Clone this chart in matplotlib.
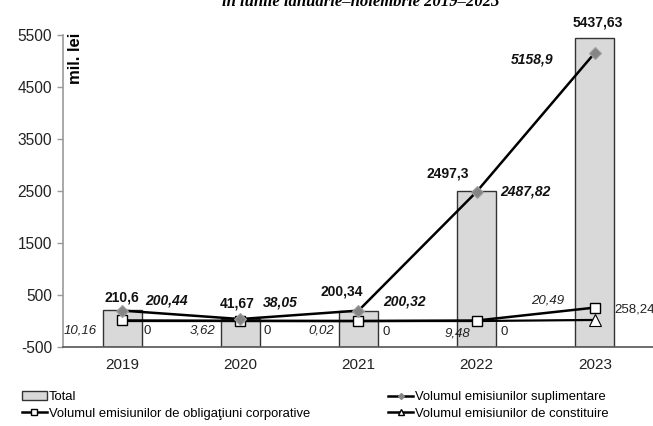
import numpy as np
import matplotlib
matplotlib.use('Agg')
import matplotlib.pyplot as plt
from matplotlib.lines import Line2D
from matplotlib.patches import Patch

# values (mil. lei)
years = ['2019', '2020', '2021', '2022', '2023']
total = [210.6, 41.67, 200.34, 2497.3, 5437.63]
suplimentare = [200.44, 38.05, 200.32, 2487.82, 5158.9]
obligatiuni = [10.16, 3.62, 0.02, 9.48, 258.24]
constituire = [0, 0, 0, 0, 20.49]
yticks = [-500, 500, 1500, 2500, 3500, 4500, 5500]

lbl_total = 'Total'
lbl_sup = 'Volumul emisiunilor suplimentare'
lbl_obl = 'Volumul emisiunilor de obligaţiuni corporative'
lbl_con = 'Volumul emisiunilor de constituire'

def fmt(v):
    return ('%g' % v).replace('.', ',')

plt.rcParams['font.family'] = ['Liberation Sans', 'DejaVu Sans']
plt.rcParams['axes.unicode_minus'] = False

fig = plt.figure(figsize=(6.53, 4.26), dpi=100)
ax = fig.add_axes([0.0965, 0.1854, 0.905, 0.7324])

x = np.arange(len(years))
ymin = yticks[0]

# bars start at the bottom of the axis
ax.bar(x, np.array(total) - ymin, bottom=ymin, width=0.33,
       color='#d9d9d9', edgecolor='#333333', linewidth=1.0, zorder=1)

ax.plot(x, obligatiuni, color='black', lw=1.8, marker='s', ms=7,
        mfc='white', mec='black', mew=1.0, zorder=3)
ax.plot(x, constituire, color='black', lw=1.6, marker='^', ms=8,
        mfc='white', mec='black', mew=0.8, zorder=2, markevery=[4])
ax.plot(x, suplimentare, color='black', lw=1.8, marker='D', ms=6,
        mfc='#858585', mec='#a0a0a0', mew=0.8, zorder=4)

# data labels (offsets in points)
off_total = [(0, 9), (-2, 11), (-12, 14), (-21, 13), (2, 11)]
off_sup = [(32, 7), (29, 12), (33, 6.5), (35, 0), (-45, -5)]
off_obl = [(-30, -7), (-27, -7), (-27, -7), (-14, -9), (14, -1.5)]
off_con = [(18, -7), (19, -7), (20, -8), (19.5, -8), (-34, 14)]

for i in x:
    ax.annotate(fmt(total[i]), (i, total[i]), xytext=off_total[i],
                textcoords='offset points', ha='center', va='center',
                fontsize=10, fontweight='bold', color='#111111')
    ax.annotate(fmt(suplimentare[i]), (i, suplimentare[i]), xytext=off_sup[i],
                textcoords='offset points', ha='center', va='center',
                fontsize=10, fontweight='bold', fontstyle='italic', color='#111111')
    last = i == len(years) - 1
    ax.annotate(fmt(obligatiuni[i]), (i, obligatiuni[i]), xytext=off_obl[i],
                textcoords='offset points', ha='left' if last else 'center',
                va='center', fontsize=9.5,
                fontstyle='normal' if last else 'italic', color='#222222')
    ax.annotate(fmt(constituire[i]), (i, constituire[i]), xytext=off_con[i],
                textcoords='offset points', ha='center', va='center',
                fontsize=9.5, fontstyle='italic' if last else 'normal',
                color='#222222')

ax.set_xlim(-0.5, len(years) - 0.5)
ax.set_ylim(ymin, yticks[-1])
ax.set_yticks(yticks)
ax.set_xticks(x)
ax.set_xticklabels(years)
ax.tick_params(axis='x', length=0, pad=8, labelsize=11, colors='#222222')
ax.tick_params(axis='y', length=4, width=1, color='#9a9a9a', pad=4,
               labelsize=11.2, labelcolor='#222222')
for s in ['top', 'right']:
    ax.spines[s].set_visible(False)
ax.spines['left'].set_color('#9a9a9a')
ax.spines['left'].set_linewidth(1.2)
ax.spines['bottom'].set_color('#555555')
ax.spines['bottom'].set_linewidth(1.2)

ax.text(0.021, 1.006, 'mil. lei', transform=ax.transAxes, rotation=90,
        ha='center', va='top', fontsize=12, fontweight='bold')

# partly cropped title at the top edge
fig.text(0.553, 1 - 6 / 426, 'în lunile ianuarie–noiembrie 2019–2023',
         ha='center', va='baseline', fontsize=12, fontweight='bold',
         fontstyle='italic', family=['Liberation Serif', 'DejaVu Serif'])

handles = [
    Patch(facecolor='#d9d9d9', edgecolor='#333333', label=lbl_total),
    Line2D([], [], color='black', lw=1.8, marker='s', ms=5, mfc='white',
           mec='black', label=lbl_obl),
    Line2D([], [], color='black', lw=1.8, marker='D', ms=3, mfc='#858585',
           mec='#858585', label=lbl_sup),
    Line2D([], [], color='black', lw=1.8, marker='^', ms=5, mfc='white',
           mec='black', label=lbl_con),
]
fig.legend(handles=handles, ncol=2, loc='upper left',
           bbox_to_anchor=(22 / 653, 1 - 391 / 426), frameon=False,
           fontsize=9.4, handlelength=1.9, handleheight=0.6,
           handletextpad=0.15, columnspacing=6.0, labelspacing=0.35,
           borderaxespad=0, borderpad=0)

fig.savefig('out.png', dpi=100)
